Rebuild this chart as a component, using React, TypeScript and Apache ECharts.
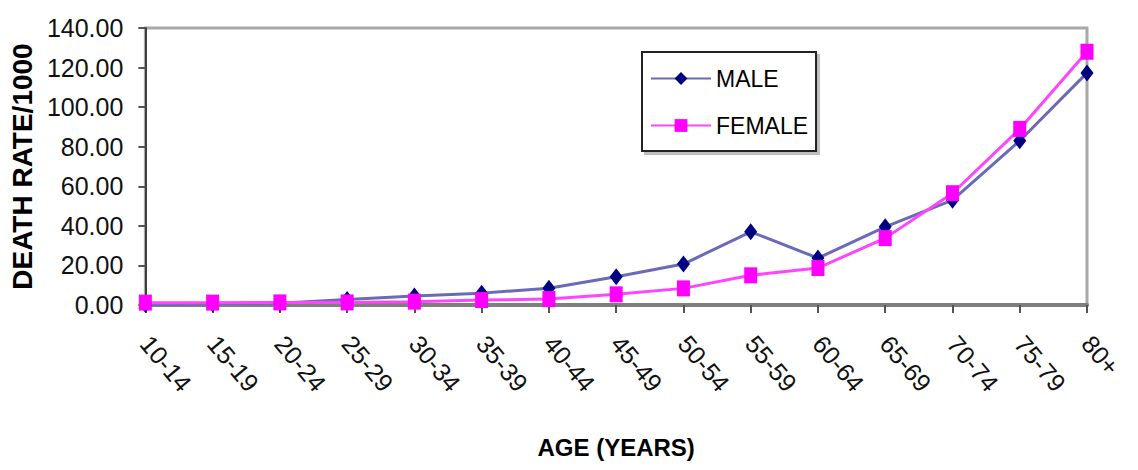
import React, { useEffect, useRef } from "react";
import * as echarts from "echarts";

// Age groups along the x axis
const ageGroups = [
  "10-14", "15-19", "20-24", "25-29", "30-34", "35-39", "40-44", "45-49",
  "50-54", "55-59", "60-64", "65-69", "70-74", "75-79", "80+",
];

// Death rate per 1000, by age group
const maleRates = [0.3, 0.6, 0.9, 2.8, 4.5, 6.0, 8.5, 14.3, 20.7, 37.0, 23.7, 39.5, 53.0, 83.0, 117.3];
const femaleRates = [1.2, 1.2, 1.3, 1.3, 1.7, 2.5, 3.0, 5.4, 8.4, 15.0, 18.7, 33.8, 56.5, 89.0, 128.0];

// Value axis range
const yMin = 0;
const yMax = 140;
const yStep = 20;

const FONT = '"Liberation Sans", Arial, sans-serif';

export default function App() {
  const ref = useRef<HTMLDivElement>(null);

  useEffect(() => {
    if (!ref.current) return;
    const chart = echarts.init(ref.current, null, { renderer: "svg" });
    chart.setOption({
      animation: false,
      backgroundColor: "#ffffff",
      grid: {
        left: 143,
        right: 51,
        top: 28,
        bottom: 165,
        show: true,
        borderColor: "#a8a8a8",
        borderWidth: 3,
        backgroundColor: "transparent",
      },
      legend: {
        orient: "vertical",
        left: 642,
        top: 52,
        padding: [15, 8, 14, 8],
        itemGap: 24,
        itemWidth: 60,
        itemHeight: 16,
        borderColor: "#222222",
        borderWidth: 2,
        backgroundColor: "#ffffff",
        shadowColor: "rgba(0,0,0,0.25)",
        shadowOffsetX: 3,
        shadowOffsetY: 3,
        shadowBlur: 0,
        textStyle: { fontFamily: FONT, fontSize: 23, color: "#000000" },
        data: ["MALE", "FEMALE"],
      },
      xAxis: {
        type: "category",
        data: ageGroups,
        boundaryGap: false,
        name: "AGE (YEARS)",
        nameLocation: "middle",
        nameGap: 130,
        nameTextStyle: {
          fontFamily: FONT,
          fontWeight: "bold",
          fontSize: 24,
          color: "#000000",
        },
        axisLine: { lineStyle: { color: "#7f7f7f", width: 4 } },
        axisTick: {
          alignWithLabel: true,
          length: 8,
          lineStyle: { color: "#555555", width: 2 },
        },
        axisLabel: {
          rotate: -50,
          margin: 34,
          interval: 0,
          fontFamily: FONT,
          fontSize: 25,
          color: "#111111",
        },
        splitLine: { show: false },
      },
      yAxis: {
        type: "value",
        min: yMin,
        max: yMax,
        interval: yStep,
        name: "DEATH RATE/1000",
        nameLocation: "middle",
        nameGap: 108,
        nameRotate: 90,
        nameTextStyle: {
          fontFamily: FONT,
          fontWeight: "bold",
          fontSize: 28,
          color: "#000000",
        },
        axisLine: { show: true, lineStyle: { color: "#404040", width: 2 } },
        axisTick: { show: true, length: 7, lineStyle: { color: "#555555", width: 2 } },
        axisLabel: {
          margin: 22,
          fontFamily: FONT,
          fontSize: 25,
          color: "#111111",
          formatter: (v: number) => v.toFixed(2),
        },
        splitLine: { show: false },
      },
      series: [
        {
          name: "MALE",
          type: "line",
          data: maleRates,
          symbol: "diamond",
          symbolSize: [13, 17],
          lineStyle: { color: "#6a6ab8", width: 3 },
          itemStyle: { color: "#000080" },
        },
        {
          name: "FEMALE",
          type: "line",
          data: femaleRates,
          symbol: "rect",
          symbolSize: [13, 16],
          lineStyle: { color: "#ff44ff", width: 3 },
          itemStyle: { color: "#ff00ff" },
        },
      ],
    });
    return () => chart.dispose();
  }, []);

  return (
    <div
      ref={ref}
      style={{ position: "fixed", left: 0, top: 0, width: 1138, height: 470 }}
    />
  );
}
